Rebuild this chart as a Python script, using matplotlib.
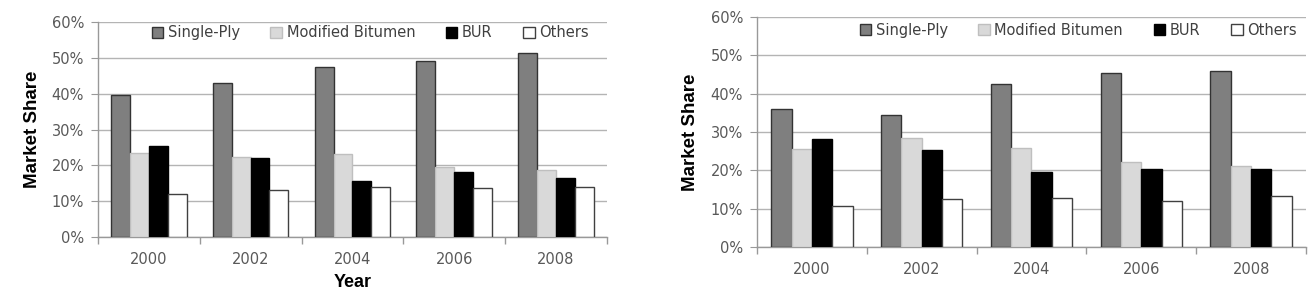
import numpy as np
import matplotlib
matplotlib.use('Agg')
import matplotlib.pyplot as plt
import matplotlib.patches as mpatches
from matplotlib.ticker import FuncFormatter

years = ['2000', '2002', '2004', '2006', '2008']
series = ['Single-Ply', 'Modified Bitumen', 'BUR', 'Others']

# left panel (market share, %)
left_single = [39.6, 43.1, 47.5, 49.2, 51.3]
left_modbit = [23.4, 22.4, 23.2, 19.6, 18.7]
left_bur    = [25.5, 22.1, 15.6, 18.2, 16.4]
left_others = [11.9, 13.1, 13.9, 13.6, 13.9]

# right panel (market share, %)
right_single = [36.0, 34.5, 42.4, 45.3, 45.9]
right_modbit = [25.6, 28.4, 25.8, 22.3, 21.1]
right_bur    = [28.1, 25.4, 19.5, 20.4, 20.4]
right_others = [10.8, 12.4, 12.9, 12.1, 13.3]

FILLS = ['#7f7f7f', '#d9d9d9', '#000000', '#ffffff']
EDGES = ['#333333', '#bfbfbf', '#000000', '#404040']
GRAY_TXT = '#595959'
LABEL_FONT = 'Liberation Sans'


def draw_panel(ax, data, legend_anchor, xlabel=None):
    x = np.arange(len(years))
    w = 0.185
    offs = (np.arange(4) - 1.5) * w
    for k, vals in enumerate(data):
        ax.bar(x + offs[k], vals, width=w, color=FILLS[k], edgecolor=EDGES[k],
               linewidth=1.0, zorder=3)

    ax.set_xlim(-0.5, len(years) - 0.5)
    ax.set_ylim(0, 60)
    ax.set_yticks(np.arange(0, 61, 10))
    ax.yaxis.set_major_formatter(FuncFormatter(lambda v, p: f'{v:.0f}%'))
    ax.grid(axis='y', color='#b4b4b4', linewidth=1.0, zorder=0)

    # category boundary ticks, labels at centres
    ax.set_xticks(np.arange(-0.5, len(years), 1.0))
    ax.set_xticklabels([])
    ax.set_xticks(x, minor=True)
    ax.set_xticklabels(years, minor=True)
    ax.tick_params(axis='x', which='major', direction='out', length=5,
                   color='#999999', width=1)
    ax.tick_params(axis='x', which='minor', length=0, pad=11,
                   labelsize=10.5, labelcolor=GRAY_TXT)
    ax.tick_params(axis='y', direction='out', length=5, color='#999999',
                   labelsize=10.5, labelcolor=GRAY_TXT, pad=5)

    for s in ['top', 'right']:
        ax.spines[s].set_visible(False)
    for s in ['left', 'bottom']:
        ax.spines[s].set_color('#999999')
        ax.spines[s].set_linewidth(1)

    ax.set_ylabel('Market Share', fontsize=13.5, fontweight='bold',
                  family=LABEL_FONT, labelpad=8)
    if xlabel:
        ax.set_xlabel(xlabel, fontsize=13, fontweight='bold',
                      family=LABEL_FONT, labelpad=5)

    handles = [mpatches.Patch(facecolor=FILLS[k], edgecolor=EDGES[k],
                              linewidth=1.0, label=series[k]) for k in range(4)]
    leg = ax.legend(handles=handles, loc='center', bbox_to_anchor=legend_anchor,
                    ncol=4, frameon=False, fontsize=10.5, handlelength=0.8,
                    handleheight=0.8, handletextpad=0.3, columnspacing=2.1)
    for t in leg.get_texts():
        t.set_color('#404040')


fig = plt.figure(figsize=(13.11, 2.93), dpi=100, facecolor='white')
ax1 = fig.add_axes([0.0748, 0.191, 0.388, 0.734])
ax2 = fig.add_axes([0.5774, 0.157, 0.4188, 0.785])

draw_panel(ax1, [left_single, left_modbit, left_bur, left_others], (0.535, 0.949), xlabel='Year')
draw_panel(ax2, [right_single, right_modbit, right_bur, right_others], (0.585, 0.943))

fig.savefig('out.png', dpi=100, facecolor='white')
